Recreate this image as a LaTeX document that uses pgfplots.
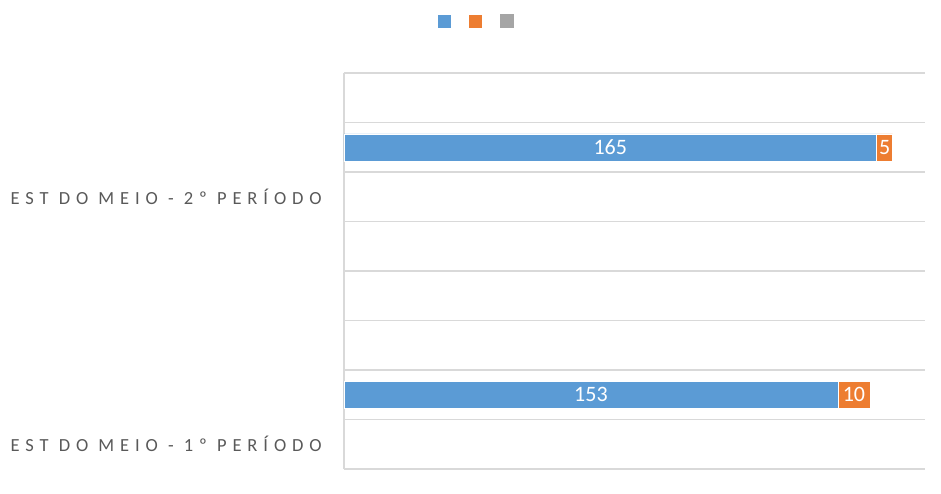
\documentclass[border=0pt]{standalone}
\usepackage{fontspec}
\setmainfont{Carlito}
\newfontfamily\labelfont[LetterSpace=32]{Carlito}
\usepackage{pgfplots}
\pgfplotsset{compat=1.18}
\definecolor{sblue}{HTML}{5B9BD5}
\definecolor{sorange}{HTML}{ED7D31}
\definecolor{sgray}{HTML}{A5A5A5}
\definecolor{gridgray}{HTML}{D9D9D9}
\definecolor{labelgray}{HTML}{595959}
\begin{document}
\begin{tikzpicture}
\begin{axis}[
  xbar stacked,
  scale only axis,
  width=581bp, height=396bp,
  xmin=0, xmax=180, ymin=0, ymax=8,
  bar width=27bp,
  axis x line=none,
  axis y line*=left,
  y axis line style={draw=gridgray, line width=1.5bp, -},
  ytick={0.5,5.5},
  yticklabels={EST DO MEIO - 1º PERÍODO, EST DO MEIO - 2º PERÍODO},
  yticklabel style={font=\labelfont\fontsize{18.5bp}{22bp}\selectfont, text=labelgray, anchor=east, inner sep=0pt, xshift=-19bp},
  major tick style={draw=white, line width=2bp},
  major tick length=6bp, tick align=center,
  extra y ticks={0,1,2,3,4,5,6,7,8},
  extra y tick labels={},
  extra y tick style={grid=major, major tick length=0pt},
  major grid style={draw=gridgray, line width=1.5bp},
  legend style={draw=none, at={(0.227,1.131)}, anchor=center, legend columns=3,
    nodes={inner sep=0pt}, /tikz/every even column/.append style={column sep=16bp}},
  legend image code/.code={\fill[#1] (0bp,-7bp) rectangle (14bp,7bp);},
  every axis plot/.append style={draw=white, line width=0.5bp},
]
\addplot[fill=sblue] coordinates {(153,1.5) (165,6.5)};
\addplot[fill=sorange] coordinates {(10,1.5) (5,6.5)};
\addlegendimage{fill=sgray, draw=none}
\legend{\mbox{},\mbox{},\mbox{}}
\coordinate (a) at (axis cs:76.5,1.5);
\coordinate (b) at (axis cs:158,1.5);
\coordinate (c) at (axis cs:82.5,6.5);
\coordinate (d) at (axis cs:167.5,6.5);
\coordinate (sw) at (rel axis cs:0,0);
\end{axis}
\begin{scope}[every node/.style={text=white, font=\fontsize{22bp}{24bp}\selectfont}]
\node at (a) {153};
\node at (b) {10};
\node at (c) {165};
\node at (d) {5};
\end{scope}
\pgfresetboundingbox
\path[use as bounding box] ([shift={(-344bp,-25bp)}]sw) rectangle ([shift={(597bp,469bp)}]sw);
\end{tikzpicture}
\end{document}
